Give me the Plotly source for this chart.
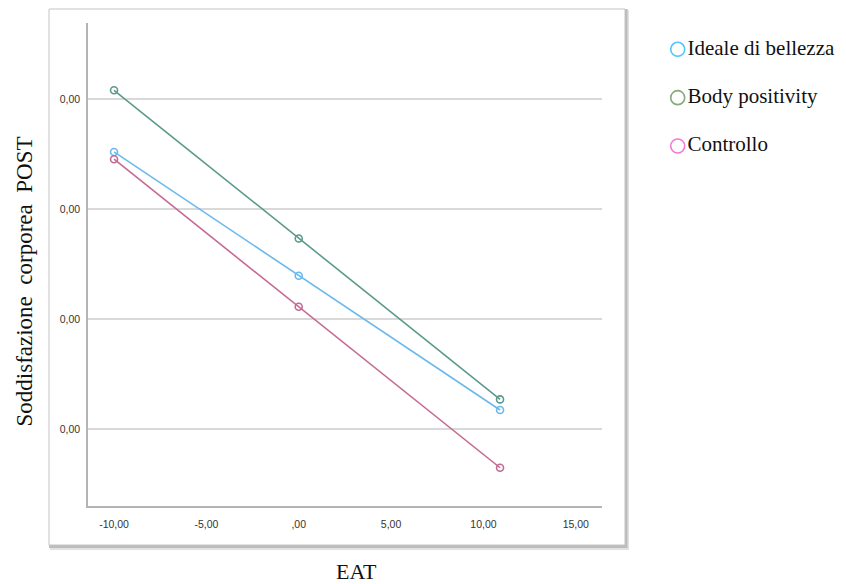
import plotly.graph_objects as go

# ---- data ----
eat = [-10.0, 0.0, 10.9]
ideale = [0.002521, 0.001394, 0.000173]
body = [0.003082, 0.001734, 0.000270]
controllo = [0.002455, 0.001112, -0.000352]

series_names = ["Ideale di bellezza", "Body positivity", "Controllo"]
x_ticks = [-10, -5, 0, 5, 10, 15]
x_ticktext = ["-10,00", "-5,00", ",00", "5,00", "10,00", "15,00"]
y_ticks = [0.0, 0.001, 0.002, 0.003]
y_ticktext = ["0,00", "0,00", "0,00", "0,00"]

line_colors = ["#6ab9ee", "#5b9a8b", "#c46a93"]
legend_colors = ["#4fc6f5", "#86aa78", "#f27ad8"]

W, H = 846, 584
def px(x):
    return x / W
def py(y):
    return (H - y) / H

fig = go.Figure()
for name, vals, col in zip(series_names, [ideale, body, controllo], line_colors):
    fig.add_trace(go.Scatter(
        x=eat, y=vals, mode="lines+markers", name=name,
        line=dict(color=col, width=1.6),
        marker=dict(symbol="circle-open", size=7, color=col, line=dict(width=1.6)),
        showlegend=False, xaxis="x", yaxis="y",
    ))

# legend drawn as a small marker series on its own hidden axes
fig.add_trace(go.Scatter(
    x=[0] * len(series_names), y=list(range(len(series_names))),
    mode="markers+text", text=series_names, textposition="middle right",
    textfont=dict(family="Liberation Serif", size=21, color="#111111"),
    marker=dict(symbol="circle-open", size=14, color=legend_colors, line=dict(width=1.6)),
    showlegend=False, xaxis="x2", yaxis="y2", hoverinfo="skip",
))

frame_l, frame_r, frame_t, frame_b = 49, 625, 9, 545
shapes = [
    dict(type="rect", xref="paper", yref="paper", layer="below",
         x0=px(frame_l + 1), x1=px(frame_r + 4), y0=py(frame_b + 5), y1=py(frame_t + 1),
         fillcolor="#e2e2e2", line=dict(width=0)),
    dict(type="rect", xref="paper", yref="paper", layer="below",
         x0=px(frame_l), x1=px(frame_r + 2.5), y0=py(frame_b + 3), y1=py(frame_t),
         fillcolor="#bdbdbd", line=dict(width=0)),
    dict(type="rect", xref="paper", yref="paper", layer="below",
         x0=px(frame_l), x1=px(frame_r), y0=py(frame_b), y1=py(frame_t),
         fillcolor="white", line=dict(color="#c4c4c4", width=1)),
]

fig.update_layout(
    width=W, height=H,
    margin=dict(l=0, r=0, t=0, b=0),
    paper_bgcolor="white", plot_bgcolor="rgba(0,0,0,0)",
    template="none",
    showlegend=False,
    shapes=shapes,
    xaxis=dict(domain=[px(88), px(602)], range=[-11.41, 16.42],
               tickvals=x_ticks, ticktext=x_ticktext, showgrid=False,
               showline=True, linecolor="#b4b4b4", linewidth=1.5,
               ticks="", ticklabelstandoff=8, zeroline=False, automargin=False,
               tickfont=dict(family="Liberation Sans", size=10.5, color="#333333"),
               anchor="y"),
    yaxis=dict(domain=[py(506), py(23)], range=[-0.0007, 0.003694],
               tickvals=y_ticks, ticktext=y_ticktext, showgrid=True,
               gridcolor="#d9d9d9", gridwidth=2,
               showline=True, linecolor="#b4b4b4", linewidth=1.5,
               ticks="", ticklabelstandoff=4, zeroline=False, automargin=False,
               tickfont=dict(family="Liberation Sans", size=10.5, color="#333333"),
               anchor="x"),
    xaxis2=dict(domain=[px(650), 1], range=[-27.7, 168.3], visible=False,
                anchor="y2", fixedrange=True),
    yaxis2=dict(domain=[0, 1], range=[11.06, -1.02], visible=False,
                anchor="x2", fixedrange=True),
    annotations=[
        dict(text="EAT", xref="paper", yref="paper", x=px(356.7), y=py(571.7),
             showarrow=False, xanchor="center", yanchor="middle",
             font=dict(family="Liberation Serif", size=22, color="#111111")),
        dict(text="Soddisfazione  corporea  POST", xref="paper", yref="paper",
             x=px(24), y=py(281.5), textangle=-90, showarrow=False,
             xanchor="center", yanchor="middle",
             font=dict(family="Liberation Serif", size=23, color="#111111")),
    ],
)

fig.write_html("out.html")
